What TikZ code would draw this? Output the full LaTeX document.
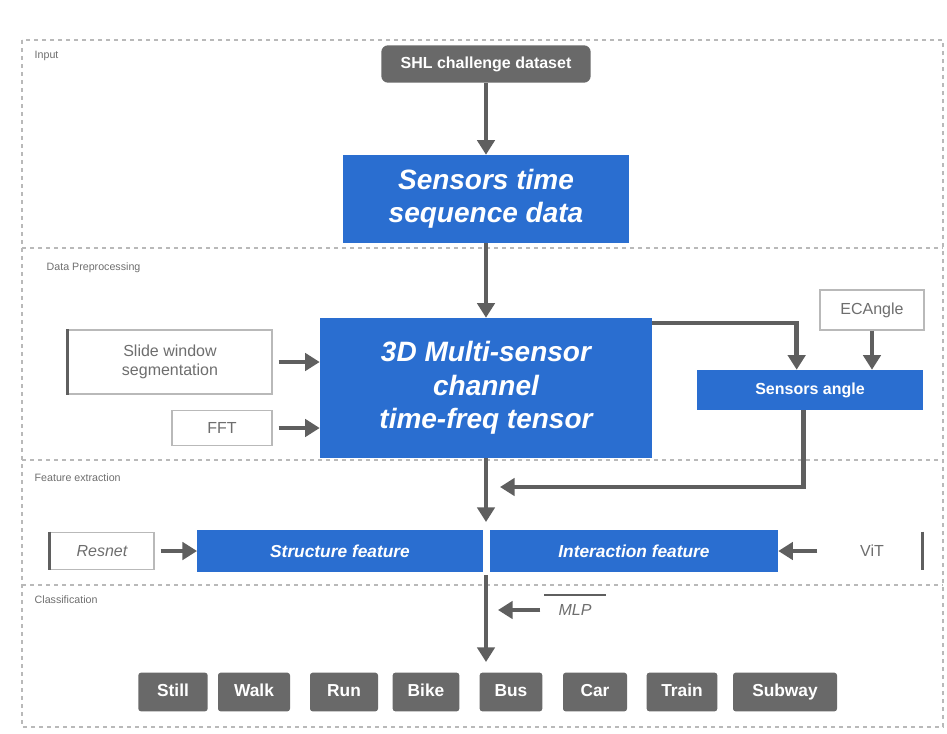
\documentclass[tikz,border=0pt]{standalone}
\usepackage{fontspec}
\setmainfont{Liberation Sans}
\usetikzlibrary{arrows.meta}
\definecolor{bluebox}{RGB}{42,110,208}
\definecolor{darkbox}{RGB}{105,105,105}
\definecolor{arrowgray}{RGB}{95,95,95}
\definecolor{framegray}{RGB}{185,185,185}
\definecolor{labelgray}{RGB}{110,110,110}
\tikzset{
  bluenode/.style={fill=bluebox, text=white, font=\bfseries\itshape, inner sep=0pt, align=center},
  graynode/.style={fill=darkbox, text=white, font=\bfseries, rounded corners=2pt, inner sep=0pt},
  classnode/.style={graynode, minimum height=29pt, text height=9.5pt, text depth=2.5pt, font=\bfseries\fontsize{13}{15}\selectfont},
  whitenode/.style={draw=framegray, line width=1pt, fill=white, text=labelgray, inner sep=0pt, align=center},
  flow/.style={draw=arrowgray, line width=3.5pt, -{Triangle[length=11pt,width=13pt]}},
  sectionlabel/.style={anchor=west, text=labelgray, font=\footnotesize},
  frame/.style={draw=framegray, dashed, line width=0.9pt}
}
\begin{document}
\begin{tikzpicture}[x=0.75pt,y=-0.75pt]
\useasboundingbox (0,0) rectangle (947,733);
% frame and section separators
\draw[frame] (22,40) rectangle (943,727);
\draw[frame] (22,248) -- (943,248);
\draw[frame] (22,460) -- (943,460);
\draw[frame] (22,585) -- (943,585);
\node[sectionlabel] (l1) at (30,56) {Input};
\node[sectionlabel] (l2) at (42,268) {Data Preprocessing};
\node[sectionlabel] (l3) at (30,478) {Feature extraction};
\node[sectionlabel] (l4) at (30,600) {Classification};
% top
\node[graynode, rounded corners=5pt, minimum width=157pt, minimum height=28pt, font=\bfseries\fontsize{12}{14}\selectfont] (src) at (486,64) {SHL challenge dataset};
\node[bluenode, minimum width=214pt, minimum height=66pt, font=\bfseries\itshape\fontsize{21}{25}\selectfont] (seq) at (486,199) {Sensors time\\sequence data};
\node[bluenode, minimum width=249pt, minimum height=105pt, font=\bfseries\itshape\fontsize{21}{25}\selectfont] (tensor) at (486,388) {3D Multi-sensor\\channel\\time-freq tensor};
\node[whitenode, minimum width=153pt, minimum height=48pt, font=\fontsize{12}{14}\selectfont] (slide) at (170,362) {Slide window\\segmentation};
\draw[draw=arrowgray, line width=2pt] (slide.north west) -- (slide.south west);
\node[whitenode, minimum width=75pt, minimum height=26pt, font=\fontsize{12}{14}\selectfont] (fft) at (222,428) {FFT};
\node[whitenode, minimum width=78pt, minimum height=30pt, font=\fontsize{12}{14}\selectfont] (euler) at (872,310) {ECAngle};
\node[bluenode, minimum width=169pt, minimum height=30pt, font=\bfseries\fontsize{12}{14}\selectfont] (angle) at (810,390) {Sensors angle};
% features
\node[whitenode, minimum width=78pt, minimum height=28pt, font=\itshape\fontsize{12}{14}\selectfont] (resnet) at (102,551) {Resnet};
\draw[draw=arrowgray, line width=2pt] (resnet.north west) -- (resnet.south west);
\node[bluenode, minimum width=214pt, minimum height=32pt, font=\bfseries\itshape\fontsize{13}{15}\selectfont] (struct) at (340,551) {Structure feature};
\node[bluenode, minimum width=216pt, minimum height=32pt, font=\bfseries\itshape\fontsize{13}{15}\selectfont] (inter) at (634,551) {Interaction feature};
\node[whitenode, draw=none, minimum width=75pt, minimum height=28pt, font=\fontsize{12}{14}\selectfont] (vit) at (872,551) {ViT};
\draw[draw=arrowgray, line width=2pt] (vit.north east) -- (vit.south east);
\node[whitenode, draw=none, minimum width=45pt, minimum height=22pt, font=\itshape\fontsize{12}{14}\selectfont] (mlp) at (575,610) {MLP};
\draw[draw=arrowgray, line width=1.5pt] (mlp.north west) -- (mlp.north east);
% classes
\foreach \name/\x/\w in {Still/173/52, Walk/254/54, Run/344/51, Bike/426/50, Bus/511/47, Car/595/48, Train/682/53, Subway/785/78}{
  \node[classnode, minimum width=\w pt] (c\name) at (\x,692) {\name};
}
% arrows
\draw[flow] (src) -- (seq);
\draw[flow] (seq) -- (tensor);
\draw[flow] (slide.east) ++(6,0) -- (tensor.west |- slide.east);
\draw[flow] (fft.east) ++(6,0) -- (tensor.west |- fft.east);
\draw[flow] (euler.south) -- (angle.north -| euler.south);
\draw[flow] ([yshift=-4pt]tensor.north east) -| ([xshift=-10pt]angle.north);
\coordinate (join) at (500,487);
\draw[flow] ([xshift=-5pt]angle.south) |- (join);
\coordinate (fe) at (486,522);
\draw[flow] (tensor.south) -- (fe);
\draw[flow] (resnet.east) ++(6,0) -- (struct.west);
\draw[flow] (vit.west) ++(-4,0) -- (inter.east);
\coordinate (fs) at (486,575);
\coordinate (ce) at (486,662);
\draw[flow] (fs) -- (ce);
\coordinate (mj) at (498,610);
\draw[flow] (mlp.west) ++(-4,0) -- (mj);
\end{tikzpicture}
\end{document}
